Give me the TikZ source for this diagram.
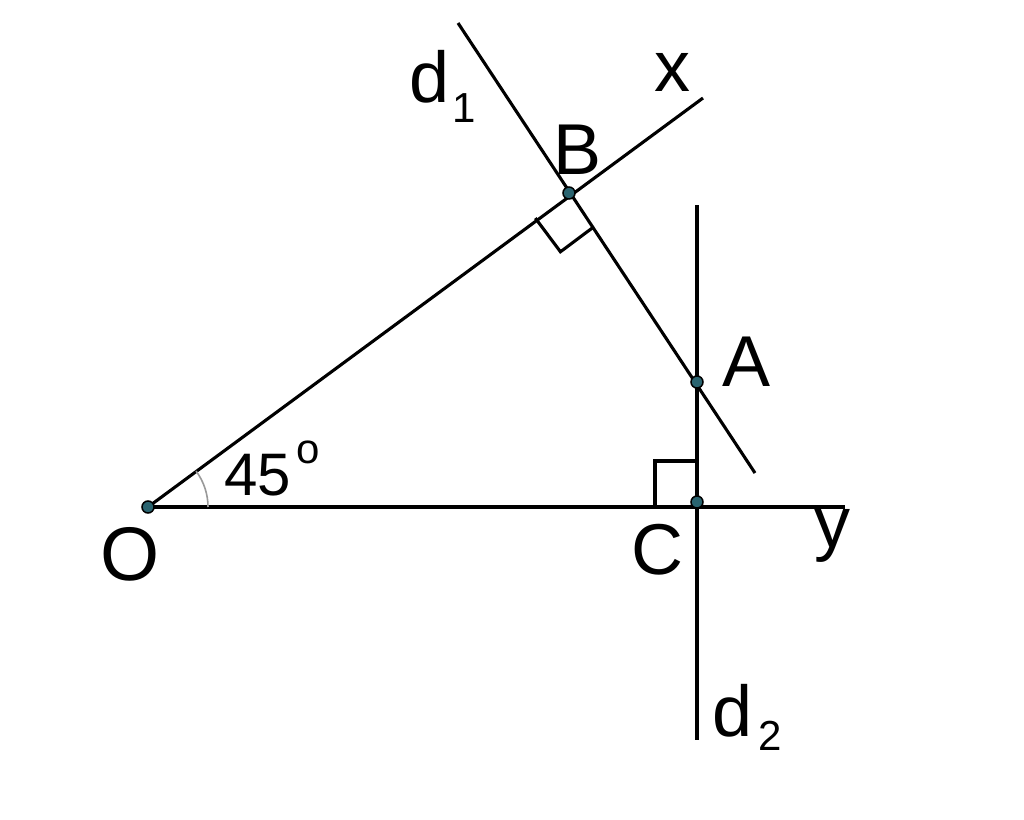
\documentclass[tikz,border=0pt]{standalone}
\usepackage{fontspec}
\setmainfont{Liberation Sans}
\usetikzlibrary{calc}
\definecolor{dotteal}{HTML}{2A6470}
\begin{document}
\begin{tikzpicture}[x=1pt,y=-1pt,
  geo/.style={line width=3.1pt,black},
  dot/.style={circle,inner sep=0pt,minimum size=12pt,fill=dotteal,draw=black,line width=1.5pt},
  lbl/.style={font=\fontsize{72}{72}\selectfont,inner sep=0pt},
  sub/.style={font=\fontsize{42}{42}\selectfont,inner sep=0pt}]
\useasboundingbox (0,0) rectangle (1024,819);
\coordinate (O) at (148,507);
\coordinate (B) at (569,193);
\coordinate (A) at (697,382);
\coordinate (C) at (697,502);
\coordinate (X) at (703,98);
\coordinate (Y) at (845,507);
\coordinate (D1a) at (458,23);
\coordinate (D1b) at (755,473);
\coordinate (D2a) at (697,205);
\coordinate (D2b) at (697,740);
% lines
\draw[geo] (O) -- (X);
\draw[geo] (O) -- (Y);
\draw[geo] (D1a) -- (D1b);
\draw[geo] (D2a) -- (D2b);
% right angle at B
\draw[geo] ($(B)!42pt!(O)$) -- ($(B)!42pt!(O)!42pt!90:(O)$) -- ($(B)!42pt!(A)$);
% right angle at C
\draw[geo] (655,507) -- (655,461) -- (697,461);
% angle arc at O
\draw[line width=1.6pt,gray!80] (O) ++(60,0) arc[start angle=0,end angle=-36.8,radius=60];
% points
\node[dot] (pO) at (O) {};
\node[dot] (pB) at (B) {};
\node[dot] (pA) at (A) {};
\node[dot] (pC) at (C) {};
% labels
\node[lbl,font=\fontsize{76}{76}\selectfont] (lO) at (130,554) {O};
\node[lbl] (lB) at (578,150) {B};
\node[lbl] (lA) at (746,362) {A};
\node[lbl] (lC) at (657,550) {C};
\node[lbl] (lx) at (672,72) {x};
\node[lbl] (ly) at (832,536) {y};
\node[lbl] (ld1) at (430,77) {d};
\node[sub] (ls1) at (464,108) {1};
\node[lbl] (ld2) at (733,711) {d};
\node[sub] (ls2) at (770,736) {2};
\node[font=\fontsize{60}{60}\selectfont,inner sep=0pt] (l45) at (258,475) {45};
\node[sub] (ldeg) at (308,452) {o};
\end{tikzpicture}
\end{document}
